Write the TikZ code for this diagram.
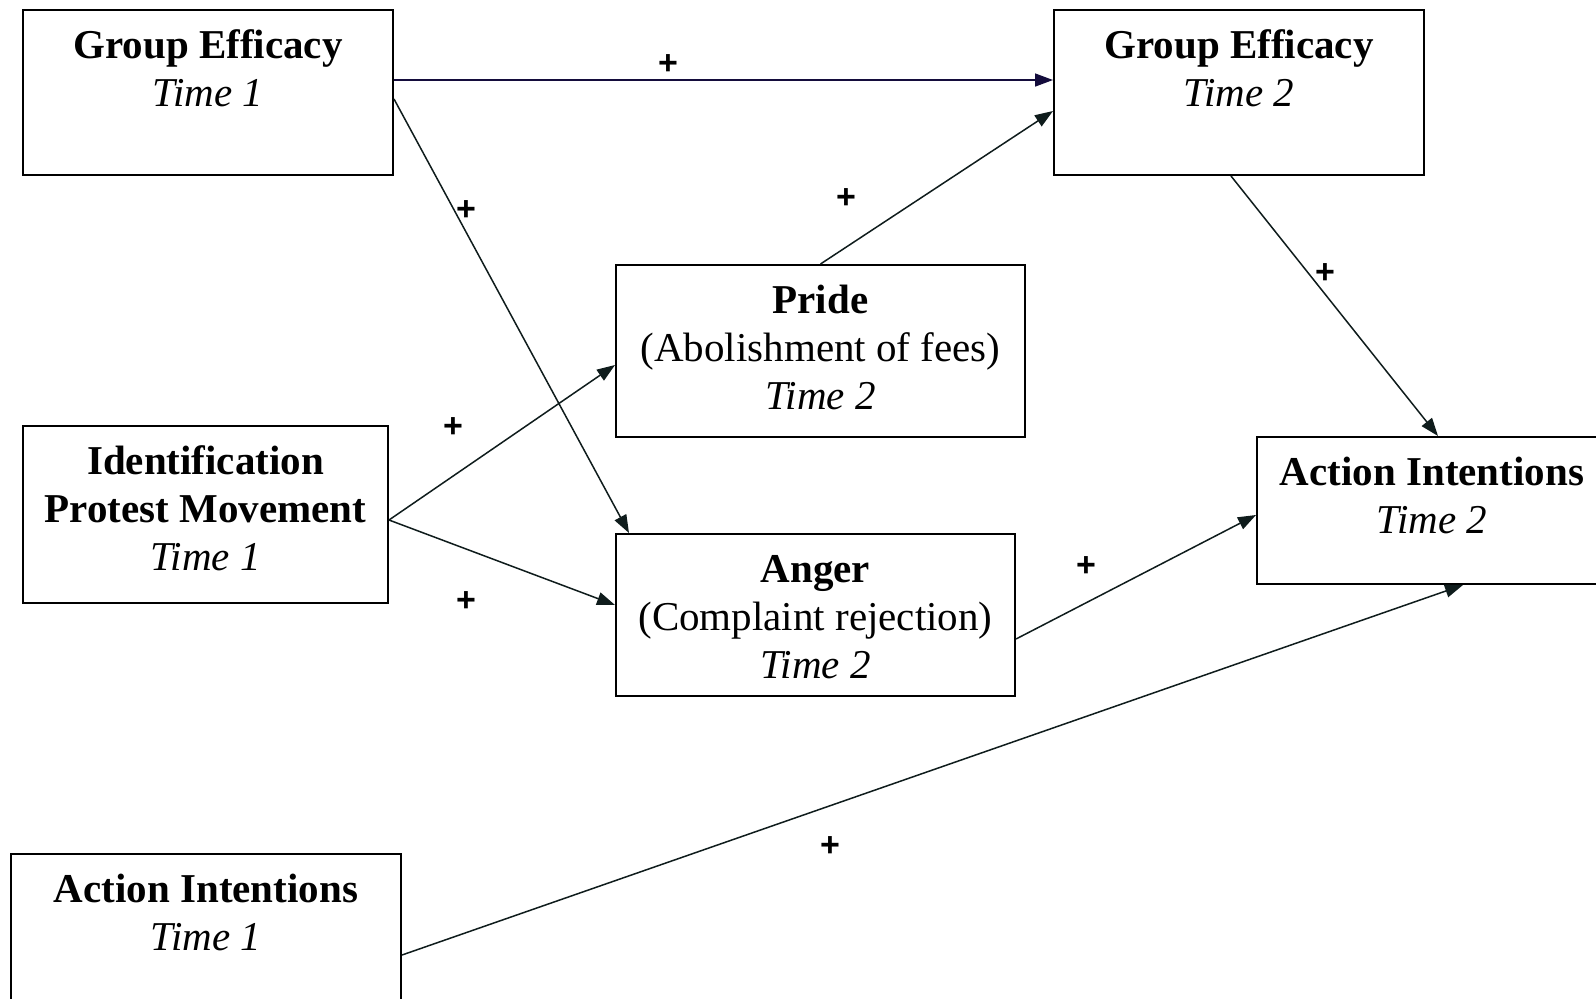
\documentclass[tikz,border=0pt]{standalone}
\usepackage{fontspec}
\setmainfont{Liberation Serif}
\newfontfamily\signfont{Liberation Sans}
\usetikzlibrary{arrows.meta, positioning}
\definecolor{var-border}{HTML}{000000}
\definecolor{link-ink}{HTML}{0F1C1C}
\definecolor{link-navy}{HTML}{140C3C}
\tikzset{
  var/.style={
    draw=var-border, line width=1pt, anchor=north west, inner sep=0pt
  },
  vartext/.style={
    font=\fontsize{20.5}{24}\selectfont, align=center, inner sep=0pt,
    below=7.95pt
  },
  sign/.style={
    font=\signfont\bfseries\fontsize{17}{19}\selectfont, inner sep=0pt,
    yshift=-1.25pt
  },
  link/.style={
    draw=link-ink, line width=0.75pt, -{Triangle[length=9pt, width=6.5pt]}
  }
}

\begin{document}
\begin{tikzpicture}[x=0.5pt, y=-0.5pt]
  \clip (0,0) rectangle (1596,998);

  % ---- Time 1 variables ----------------------------------------------------
  \node[var, minimum width=185pt, minimum height=82.5pt] (effone) at (22,9) {};
  \node[vartext] (effone-t) at (effone.north)
        {\strut\textbf{Group Efficacy}\\\textit{Time 1}};

  \node[var, minimum width=182.5pt, minimum height=88.5pt] (ident) at (22,425) {};
  \node[vartext] (ident-t) at (ident.north)
        {\strut\textbf{Identification}\\\textbf{Protest Movement}\\\textit{Time 1}};

  \node[var, minimum width=195pt, minimum height=82.5pt] (actone) at (10,853) {};
  \node[vartext] (actone-t) at (actone.north)
        {\strut\textbf{Action Intentions}\\\textit{Time 1}};

  % ---- Emotions ------------------------------------------------------------
  \node[var, minimum width=204.5pt, minimum height=86pt] (pride) at (615,264) {};
  \node[vartext] (pride-t) at (pride.north)
        {\strut\textbf{Pride}\\(Abolishment of fees)\\\textit{Time 2}};

  \node[var, minimum width=199.5pt, minimum height=81pt] (anger) at (615,533) {};
  \node[vartext] (anger-t) at (anger.north)
        {\strut\textbf{Anger}\\(Complaint rejection)\\\textit{Time 2}};

  % ---- Time 2 variables ----------------------------------------------------
  \node[var, minimum width=185pt, minimum height=82.5pt] (efftwo) at (1053,9) {};
  \node[vartext] (efftwo-t) at (efftwo.north)
        {\strut\textbf{Group Efficacy}\\\textit{Time 2}};

  \node[var, minimum width=175pt, minimum height=73.5pt] (acttwo) at (1256,436) {};
  \node[vartext] (acttwo-t) at (acttwo.north)
        {\strut\textbf{Action Intentions}\\\textit{Time 2}};

  % ---- Paths ---------------------------------------------------------------
  \draw[link, draw=link-navy] ([yshift=6.25pt]effone.east) -- ([yshift=6.25pt]efftwo.west);
  \draw[link] ([yshift=-3.25pt]effone.east) -- ([xshift=7pt]anger.north west);
  \draw[link] (pride.north) -- ([yshift=-9.25pt]efftwo.west);
  \draw[link] ([xshift=-4pt]efftwo.south) -- ([xshift=91pt]acttwo.north west);
  \draw[link] ([yshift=-2.75pt]ident.east) -- ([yshift=-7pt]pride.west);
  \draw[link] ([yshift=-2.75pt]ident.east) -- ([yshift=5pt]anger.west);
  \draw[link] ([yshift=-12pt]anger.east) -- ([yshift=-2.25pt]acttwo.west);
  \draw[link] ([yshift=-9.25pt]actone.east) -- ([xshift=103.5pt]acttwo.south west);

  % ---- Signs ---------------------------------------------------------------
  \node[sign] (s1) at (668,62) {+};
  \node[sign] (s2) at (466,208) {+};
  \node[sign] (s3) at (846,196) {+};
  \node[sign] (s4) at (1325,271) {+};
  \node[sign] (s5) at (453,425) {+};
  \node[sign] (s6) at (466,599) {+};
  \node[sign] (s7) at (1086,564) {+};
  \node[sign] (s8) at (830,844) {+};

\end{tikzpicture}
\end{document}
